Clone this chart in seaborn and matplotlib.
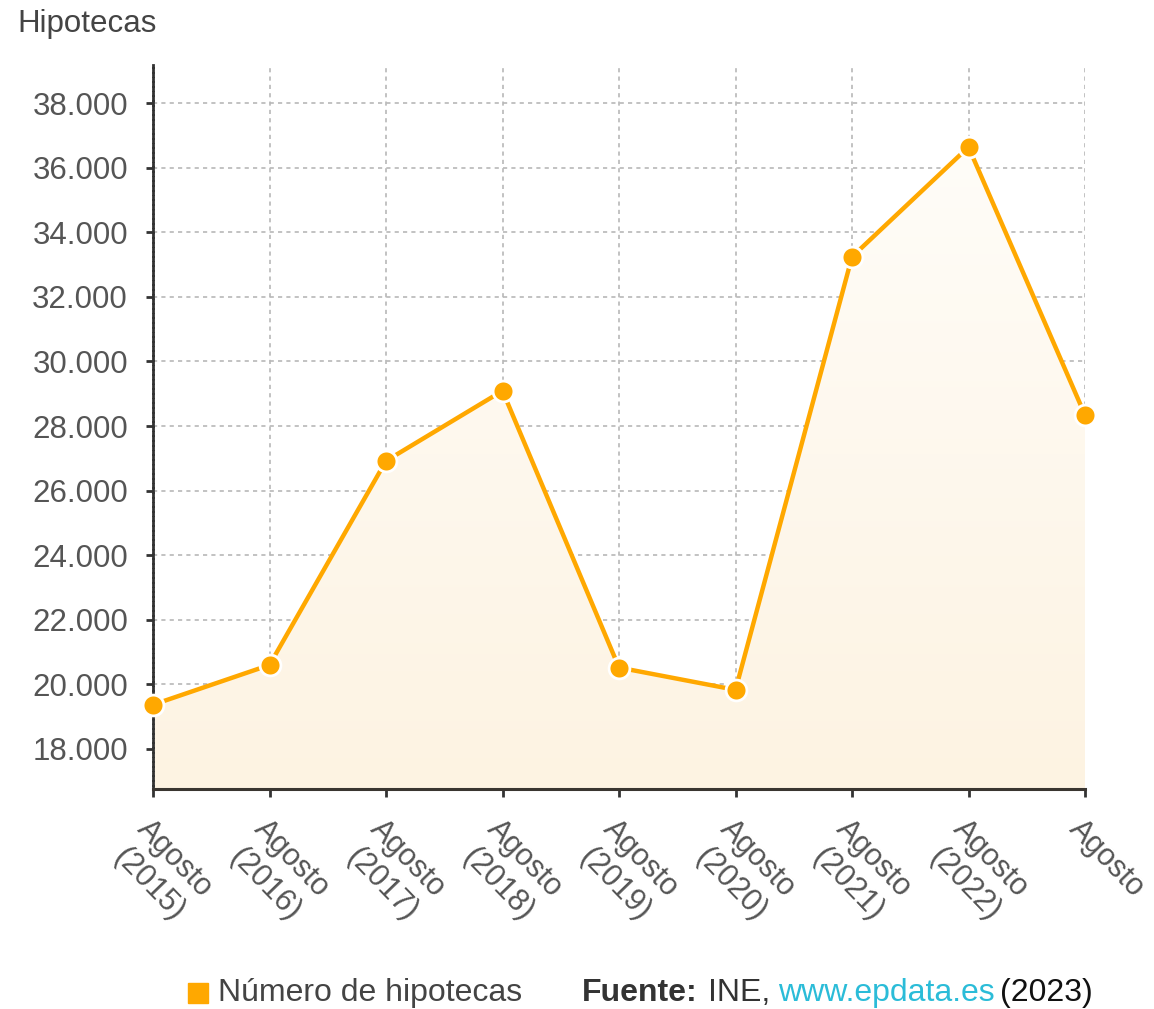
import numpy as np
import pandas as pd
import matplotlib
matplotlib.use("Agg")
import matplotlib.pyplot as plt
import seaborn as sns

# Data
periods = ["Agosto\n(2015)", "Agosto\n(2016)", "Agosto\n(2017)", "Agosto\n(2018)",
           "Agosto\n(2019)", "Agosto\n(2020)", "Agosto\n(2021)", "Agosto\n(2022)",
           "Agosto"]
hipotecas = [19370, 20600, 26920, 29090, 20520, 19830, 33240, 36640, 28340]
y_ticks = [18000, 20000, 22000, 24000, 26000, 28000, 30000, 32000, 34000, 36000, 38000]

ORANGE = "#ffa800"
GREY_TXT = "#555555"

sns.set_theme(style="white")
plt.rcParams["font.family"] = ["Liberation Sans", "DejaVu Sans"]

df = pd.DataFrame({"pos": range(len(periods)), "valor": hipotecas})

fig = plt.figure(figsize=(11.54, 10.09), dpi=100)
ax = fig.add_axes([153 / 1154, 220 / 1009, (1085 - 153) / 1154, (789 - 65) / 1009])

ymin, ymax = 16760, 39180
ax.set_xlim(0, len(periods) - 1)
ax.set_ylim(ymin, ymax)

# gradient fill under the line
grad = np.linspace(0, 1, 256).reshape(-1, 1)
cmap = matplotlib.colors.LinearSegmentedColormap.from_list(
    "fill", ["#fdf3e2", "#fffdf9"])
img = ax.imshow(grad, cmap=cmap, aspect="auto", origin="lower",
                extent=[0, len(periods) - 1, ymin, 37500], zorder=1)
poly = ax.fill_between(df["pos"], df["valor"], ymin, color="none", lw=0)
img.set_clip_path(poly.get_paths()[0], ax.transData)

sns.lineplot(data=df, x="pos", y="valor", ax=ax, color=ORANGE, lw=3.2,
             marker="o", markersize=15, markeredgecolor="white",
             markeredgewidth=2, zorder=4, clip_on=False)

ax.set_xticks(range(len(periods)))
ax.set_xticklabels(periods)
ax.set_yticks(y_ticks)
ax.set_yticklabels([f"{v:,}".replace(",", ".") for v in y_ticks])
ax.set_xlabel("")
ax.set_ylabel("")

ax.grid(True, color="#b8b8b8", linestyle=(0, (2.5, 2.5)), lw=1.2, zorder=0)
ax.set_axisbelow(True)

for s in ["top", "right"]:
    ax.spines[s].set_visible(False)
ax.spines["left"].set_linestyle((0, (1, 0.7)))
ax.spines["left"].set_color("#333333")
ax.spines["left"].set_linewidth(2)
ax.spines["bottom"].set_color("#3a3530")
ax.spines["bottom"].set_linewidth(2.2)

ax.tick_params(axis="y", labelsize=22.5, labelcolor=GREY_TXT, length=5,
               width=2, color="#333333", left=True, pad=13)
ax.tick_params(axis="x", labelsize=22, labelcolor=GREY_TXT, length=6,
               width=2, color="#333333", bottom=True, pad=12)
for lab in ax.get_xticklabels():
    lab.set_rotation(-46)
    lab.set_ha("left")
    lab.set_va("top")
    lab.set_rotation_mode("anchor")
    lab.set_multialignment("center")
    lab.set_linespacing(1.3)

fig.text(17 / 1154, 1 - 24 / 1009, "Hipotecas", fontsize=22.5, color="#444444",
         ha="left", va="center")

# footer: legend + source, pieces placed one after another
fy = 1 - 993 / 1009
fig.patches.append(matplotlib.patches.Rectangle(
    (188 / 1154, fy - 10 / 1009), 20 / 1154, 20 / 1009,
    transform=fig.transFigure, color=ORANGE, figure=fig))
fig.text(218 / 1154, fy, "Número de hipotecas", fontsize=23, color="#444444",
         ha="left", va="center")

renderer = fig.canvas.get_renderer()
pieces = [("Fuente:", "#333333", "bold", 0),
          ("INE,", "#333333", "normal", 10),
          ("www.epdata.es", "#2bbcd8", "normal", 8),
          ("(2023)", "#111111", "normal", 5)]
x = 582
for txt, col, weight, gap in pieces:
    x += gap
    t = fig.text(x / 1154, fy, txt, fontsize=23, color=col, fontweight=weight,
                 ha="left", va="center")
    x += t.get_window_extent(renderer).width

fig.savefig("out.png", dpi=100, facecolor="white")
